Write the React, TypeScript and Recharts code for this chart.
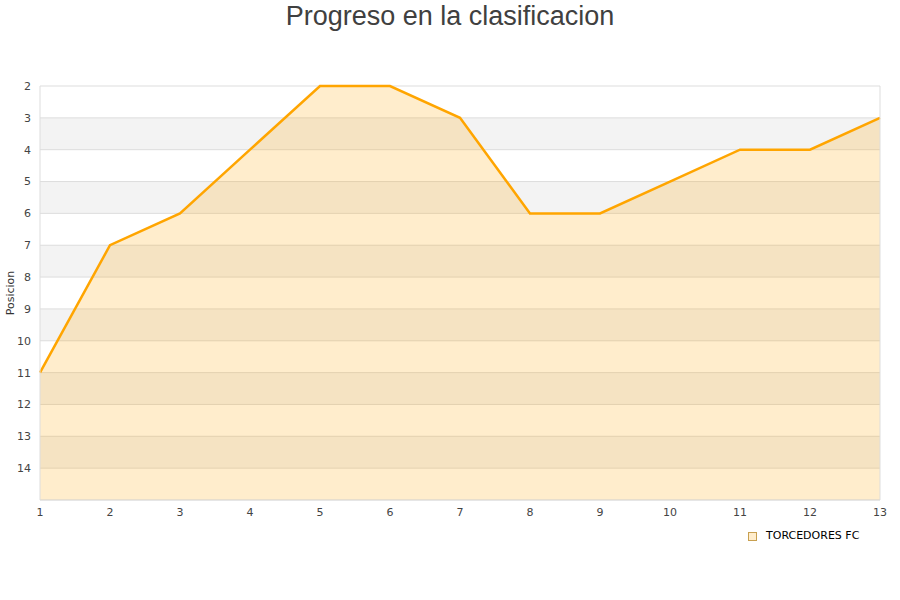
import React from 'react';
import { AreaChart, Area, XAxis, YAxis, CartesianGrid, ReferenceLine, Label } from 'recharts';

const jornadas = [1, 2, 3, 4, 5, 6, 7, 8, 9, 10, 11, 12, 13];
const posiciones = [11, 7, 6, 4, 2, 2, 3, 6, 6, 5, 4, 4, 3];
const yTicks = [2, 3, 4, 5, 6, 7, 8, 9, 10, 11, 12, 13, 14];
const seriesName = 'TORCEDORES FC';
const title = 'Progreso en la clasificacion';
const yLabel = 'Posicion';

const data = jornadas.map((j, i) => ({ jornada: j, pos: posiciones[i] }));

const tickStyle = { fontSize: 11, fill: '#444', fontFamily: 'DejaVu Sans' };

const YLabelContent = () => (
  <text x={14} y={293} transform="rotate(-90 14 293)" textAnchor="middle" fontSize={11} fill="#333" fontFamily="DejaVu Sans">
    {yLabel}
  </text>
);

export default function App() {
  return (
    <div style={{ position: 'absolute', width: 900, height: 600, top: 0, left: 0, background: '#fff' }}>
      <AreaChart width={900} height={600} data={data} margin={{ top: 86, right: 20, left: 0, bottom: 70 }}>
        <CartesianGrid vertical={false} stroke="#dddddd" horizontalFill={['#ffffff', '#f3f3f3']} fillOpacity={1} />
        <XAxis
          dataKey="jornada"
          type="number"
          domain={[1, 13]}
          ticks={jornadas}
          tick={tickStyle}
          tickLine={false}
          axisLine={{ stroke: '#dddddd' }}
          height={30}
          tickMargin={2}
        />
        <YAxis
          type="number"
          reversed
          domain={[2, 15]}
          ticks={yTicks}
          tick={tickStyle}
          tickLine={false}
          axisLine={{ stroke: '#dddddd' }}
          width={40}
          tickMargin={3}
          interval={0}
        >
          <Label content={<YLabelContent />} />
        </YAxis>
        <ReferenceLine x={13} stroke="#dddddd" />
        <Area
          type="linear"
          dataKey="pos"
          name={seriesName}
          baseValue={15}
          stroke="#ffa500"
          strokeWidth={2.5}
          fill="#ffa500"
          fillOpacity={0.2}
          dot={false}
          activeDot={false}
          isAnimationActive={false}
        />
      </AreaChart>
      <div style={{ position: 'absolute', zIndex: 2, top: 0, left: 0, width: 900, textAlign: 'center', fontFamily: 'Liberation Sans', fontSize: 27, color: '#404040', lineHeight: '32px' }}>
        {title}
      </div>
      <div style={{ position: 'absolute', zIndex: 2, top: 529, left: 748, display: 'flex', alignItems: 'center', fontFamily: 'DejaVu Sans', fontSize: 11, color: '#000', lineHeight: '14px' }}>
        <span style={{ display: 'inline-block', width: 7, height: 7, border: '1px solid #c8a050', background: '#ffedcc', marginRight: 9 }} />
        <span>{seriesName}</span>
      </div>
    </div>
  );
}
